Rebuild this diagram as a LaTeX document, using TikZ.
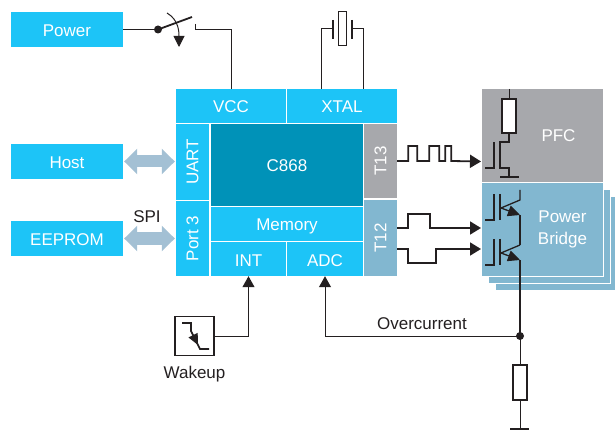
\documentclass[tikz,border=0pt]{standalone}
\usepackage{fontspec}
\setmainfont{Liberation Sans}
\usetikzlibrary{arrows.meta}
\definecolor{bleuvif}{RGB}{29,196,247}
\definecolor{bleufonce}{RGB}{0,146,184}
\definecolor{bleugris}{RGB}{130,183,208}
\definecolor{gris}{RGB}{167,168,172}
\definecolor{flechegris}{RGB}{163,192,212}
\definecolor{trait}{RGB}{35,31,32}
\tikzset{
	bloc/.style={inner sep=0pt,text=white,fill=bleuvif,font=\fontsize{17}{20}\selectfont},
	droit/.style={text height=14pt,text depth=0pt},
	page/.style={inner sep=0pt,fill=bleugris,draw=white,line width=0.8pt,minimum width=122pt,minimum height=94pt},
	legende/.style={inner sep=0pt,text=trait,font=\fontsize{17}{20}\selectfont,text height=14pt,text depth=0pt},
	fil/.style={draw=trait,line width=1pt},
	signal/.style={draw=trait,line width=1.8pt,-{Triangle[length=11pt,width=13pt]}},
	large/.style={draw=flechegris,line width=12pt,{Triangle[length=13pt,width=25pt]}-{Triangle[length=13pt,width=25pt]},shorten <=1pt,shorten >=1pt},
	resistance/.style={draw=trait,fill=white,line width=1.6pt,inner sep=0pt,minimum width=14pt,minimum height=34pt},
	point/.style={circle,fill=trait,inner sep=0pt,minimum size=8pt},
}
\begin{document}
\begin{tikzpicture}[x=1pt,y=-1pt]
	\useasboundingbox (0,0) rectangle (615,430);
	%blocs de gauche
	\node (node power) at(67, 29.5) [bloc,droit,minimum width=112pt,minimum height=35pt] {Power} ;
	\node (node host) at(67, 161.5) [bloc,droit,minimum width=112pt,minimum height=35pt] {Host} ;
	\node (node eeprom) at(67, 238.5) [bloc,droit,minimum width=112pt,minimum height=35pt] {EEPROM} ;
	%le C868
	\node (node vcc) at(231, 106) [bloc,droit,minimum width=110pt,minimum height=34pt] {VCC} ;
	\node (node xtal) at(342, 106) [bloc,droit,minimum width=110pt,minimum height=34pt] {XTAL} ;
	\node (node uart) at(192.5, 162) [bloc,rotate=90,minimum width=76pt,minimum height=33pt] {UART} ;
	\node (node port) at(192.5, 238.5) [bloc,rotate=90,minimum width=75pt,minimum height=33pt] {Port 3} ;
	\node (node c868) at(287, 165) [bloc,droit,fill=bleufonce,minimum width=152pt,minimum height=82pt] {C868} ;
	\node (node memory) at(287, 224) [bloc,droit,minimum width=152pt,minimum height=34pt] {Memory} ;
	\node (node int) at(248.5, 259) [bloc,droit,minimum width=75pt,minimum height=34pt] {INT} ;
	\node (node adc) at(325, 259) [bloc,droit,minimum width=76pt,minimum height=34pt] {ADC} ;
	\node (node t13) at(380.5, 161) [bloc,fill=gris,rotate=90,minimum width=74pt,minimum height=33pt] {T13} ;
	\node (node t12) at(380.5, 238) [bloc,fill=bleugris,rotate=90,minimum width=76pt,minimum height=33pt] {T12} ;
	%blocs de droite
	\node (node page 3) at(556, 243.5) [page] {} ;
	\node (node page 2) at(549.5, 236.5) [page] {} ;
	\node (node bridge) at(542.5, 229.5) [page,text=white,align=center,font=\fontsize{17}{22}\selectfont,text width=122pt] {\hspace*{40pt}Power\\\hspace*{40pt}Bridge} ;
	\node (node pfc) at(542.5, 135.5) [bloc,fill=gris,minimum width=121pt,minimum height=93pt,text width=121pt,align=center] {\hspace*{32pt}PFC} ;
	\node (node spi) at(147, 216) [legende] {SPI} ;
	\node (node overcurrent) at(422, 322) [legende] {Overcurrent} ;
	\node (node wakeup) at(194.5, 371) [legende] {Wakeup} ;
	\node (node front) at(194.5, 336) [draw=trait,line width=1.6pt,inner sep=0pt,minimum size=39pt] {} ;
	%interrupteur
	\node (node inter) at(158, 29.5) [point] {} ;
	\coordinate (lame) at(192, 17) ;
	\coordinate (contact) at(195, 24) ;
	\coordinate (coude vcc) at(231, 29.5) ;
	%quartz
	\node (node quartz) at(342, 29) [resistance,line width=1pt,minimum width=8pt,minimum height=34pt] {} ;
	\coordinate (plaque a1) at(333, 20) ;
	\coordinate (plaque a2) at(333, 39) ;
	\coordinate (plaque b1) at(352, 20) ;
	\coordinate (plaque b2) at(352, 39) ;
	\coordinate (xtal a) at(321, 89) ;
	\coordinate (xtal b) at(363, 89) ;
	%PFC
	\coordinate (pfc haut) at(509, 89) ;
	\node (node r pfc) at(509, 116) [resistance] {} ;
	\coordinate (pfc drain) at(509, 142) ;
	\coordinate (pfc masse) at(509, 177) ;
	\coordinate (pfc entree) at(481, 161.5) ;
	%bridge
	\coordinate (t12 haut) at(397, 228) ;
	\coordinate (t12 bas) at(397, 249) ;
	\coordinate (igbt haut) at(481, 228) ;
	\coordinate (igbt bas) at(481, 249) ;
	\node (node mesure) at(520, 336) [point] {} ;
	\node (node r mesure) at(520, 382.5) [resistance,fill=white,minimum height=35pt] {} ;
	\coordinate (masse) at(520, 429) ;

	\path
	(node host.east) edge[large] (node uart.north |- node host.east)
	(node eeprom.east) edge[large] (node port.north |- node eeprom.east)
	;
	%cablage fin
	\draw[fil] (node power.east) -- (node inter.center) ;
	\draw[trait,line width=1.8pt] (node inter.center) -- (lame) ;
	\draw[trait,line width=1pt,-{Triangle[length=11pt,width=11pt]}] (167,13) to[out=-30,in=90] (179,47) ;
	\draw[fil] (contact) |- (coude vcc) -- (node vcc.north) ;
	\draw[fil] (xtal a) |- (plaque a1 |- node quartz.west) ;
	\draw[fil] (xtal b) |- (plaque b1 |- node quartz.east) ;
	\draw[trait,line width=1.6pt] (plaque a1) -- (plaque a2) (plaque b1) -- (plaque b2) ;
	%signaux
	\draw[signal] (node t13.south) -- ++(11,0) -- ++(0,-15) -- ++(9,0) -- ++(0,15) -- ++(12,0) -- ++(0,-15) -- ++(10,0) -- ++(0,15) -- ++(6,0) -- ++(0,-15) -- ++(6,0) -- ++(0,15) -- (pfc entree) ;
	\draw[signal] (t12 haut) -- ++(11,0) -- ++(0,-14) -- ++(22,0) -- ++(0,14) -- (igbt haut) ;
	\draw[signal] (t12 bas) -- ++(11,0) -- ++(0,14) -- ++(28,0) -- ++(0,-14) -- (igbt bas) ;
	%transistor PFC
	\draw[fil] (pfc haut) -- (node r pfc.north) ;
	\draw[trait,line width=1.3pt] (node r pfc.south) -- (pfc drain) -- (500,142) -- (500,168) -- (509,168) -- (pfc masse) ;
	\draw[trait,line width=1.3pt] (485,168) -- (494,168) -- (494,142) ;
	\draw[trait,line width=1.6pt] (500,177) -- (519,177) ;
	%transistors du bridge
	\foreach \dy/\yhaut in {0/190,45/245}{
		\draw[trait,line width=1.3pt] (485,220+\dy) -- (494,220+\dy) -- (494,194+\dy) ;
		\draw[trait,line width=1.3pt] (500,194+\dy) -- (500,220+\dy) ;
		\draw[trait,line width=1.3pt] (520,\yhaut) -- (520,200+\dy) -- (501,208+\dy) ;
		\draw[trait,line width=1.3pt,-{Triangle[length=12pt,width=11pt]}] (501,208+\dy) -- (520,215+\dy) ;
	}
	\draw[trait,line width=1.3pt] (520,215) -- (520,245) ;
	\draw[trait,line width=1.3pt] (520,260) -- (node mesure.center) ;
	%mesure et masse
	\draw[fil] (node mesure.center) -- (node r mesure.north) ;
	\draw[fil] (node r mesure.south) -- (masse) ;
	\draw[trait,line width=1.6pt] (510,429) -- (529,429) ;
	\draw[fil,-{Triangle[length=11pt,width=12pt]}] (node mesure.center) -| (node adc.south) ;
	\draw[fil,-{Triangle[length=11pt,width=12pt]}] (node front.east) -| (node int.south) ;
	%front descendant
	\draw[trait,line width=1.6pt] (182,323) -- (191,323) -- (191,331) -- (200,349) -- (209,349) ;
	\draw[trait,line width=1pt,-{Triangle[length=11pt,width=10pt]}] (191,331) -- (198,345) ;
\end{tikzpicture}
\end{document}
